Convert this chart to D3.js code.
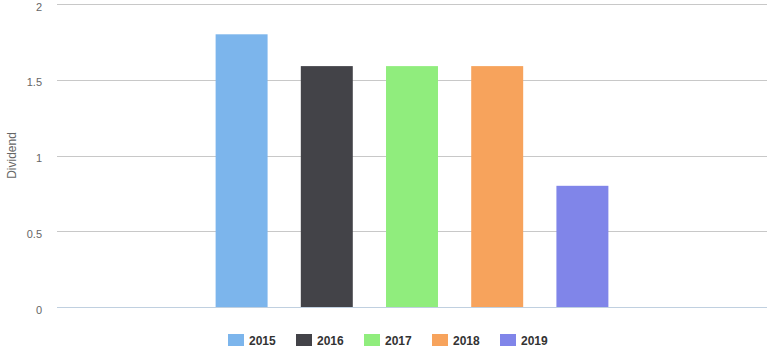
<!DOCTYPE html>
<html><head><meta charset="utf-8">
<script src="https://cdn.jsdelivr.net/npm/d3@7"></script>
<style>body{margin:0;background:#fff}svg{display:block;font-family:"Liberation Sans",Arial,sans-serif}</style>
</head><body>
<svg id="c" width="772" height="361"></svg>
<script>
const categories = ["Dividend"];
const seriesNames = ["2015", "2016", "2017", "2018", "2019"];
const seriesValues = [1.8, 1.59, 1.59, 1.59, 0.8];
const seriesColors = ["#7cb5ec", "#434348", "#90ed7d", "#f7a35c", "#8085e9"];
const yTicks = [0, 0.5, 1, 1.5, 2];
const yTitle = "Dividend";

(function () {
const svg = d3.select("#c");
const mLeft = 57, mRight = 767, mTop = 4, mBottom = 307;

const y = d3.scaleLinear().domain([0, 2]).range([mBottom, mTop]);
const xCat = d3.scaleBand().domain(categories).range([mLeft, mRight]).padding(0);
const x0 = xCat(categories[0]), bw = xCat.bandwidth();
const xSer = d3.scaleBand().domain(seriesNames)
  .range([x0 + bw * 0.2, x0 + bw * 0.8])
  .paddingInner(0.39).paddingOuter(0.195);

const yAxis = d3.axisLeft(y).tickValues(yTicks).tickSize(-(mRight - mLeft)).tickFormat(d3.format("~g")).tickPadding(14);
const g = svg.append("g").attr("transform", `translate(${mLeft},0)`).call(yAxis);
g.select(".domain").remove();
g.selectAll(".tick line").attr("stroke", "#c8c8c8").attr("shape-rendering", "crispEdges");
g.selectAll(".tick text").attr("fill", "#666").attr("font-size", 11).attr("x", -15).attr("dy", "0.55em");
g.selectAll(".tick").filter(d => d === 0).select("line").attr("stroke", "#c0d0e0");

svg.append("g").selectAll("rect").data(seriesNames).join("rect")
  .attr("x", d => xSer(d))
  .attr("width", xSer.bandwidth())
  .attr("y", (d, i) => y(seriesValues[i]))
  .attr("height", (d, i) => y(0) - y(seriesValues[i]))
  .attr("fill", (d, i) => seriesColors[i]);

svg.append("text").attr("transform", `translate(16,${(mTop + mBottom) / 2}) rotate(-90)`)
  .attr("text-anchor", "middle").attr("fill", "#666").attr("font-size", 12).text(yTitle);

const itemW = 68, startX = 228;
const leg = svg.append("g").selectAll("g").data(seriesNames).join("g")
  .attr("transform", (d, i) => `translate(${startX + i * itemW},334)`);
leg.append("rect").attr("width", 16).attr("height", 12).attr("fill", (d, i) => seriesColors[i]);
leg.append("text").attr("x", 21).attr("y", 11).attr("font-size", 12).attr("font-weight", "bold")
  .attr("fill", "#333").text(d => d);
})();
</script>
</body></html>
